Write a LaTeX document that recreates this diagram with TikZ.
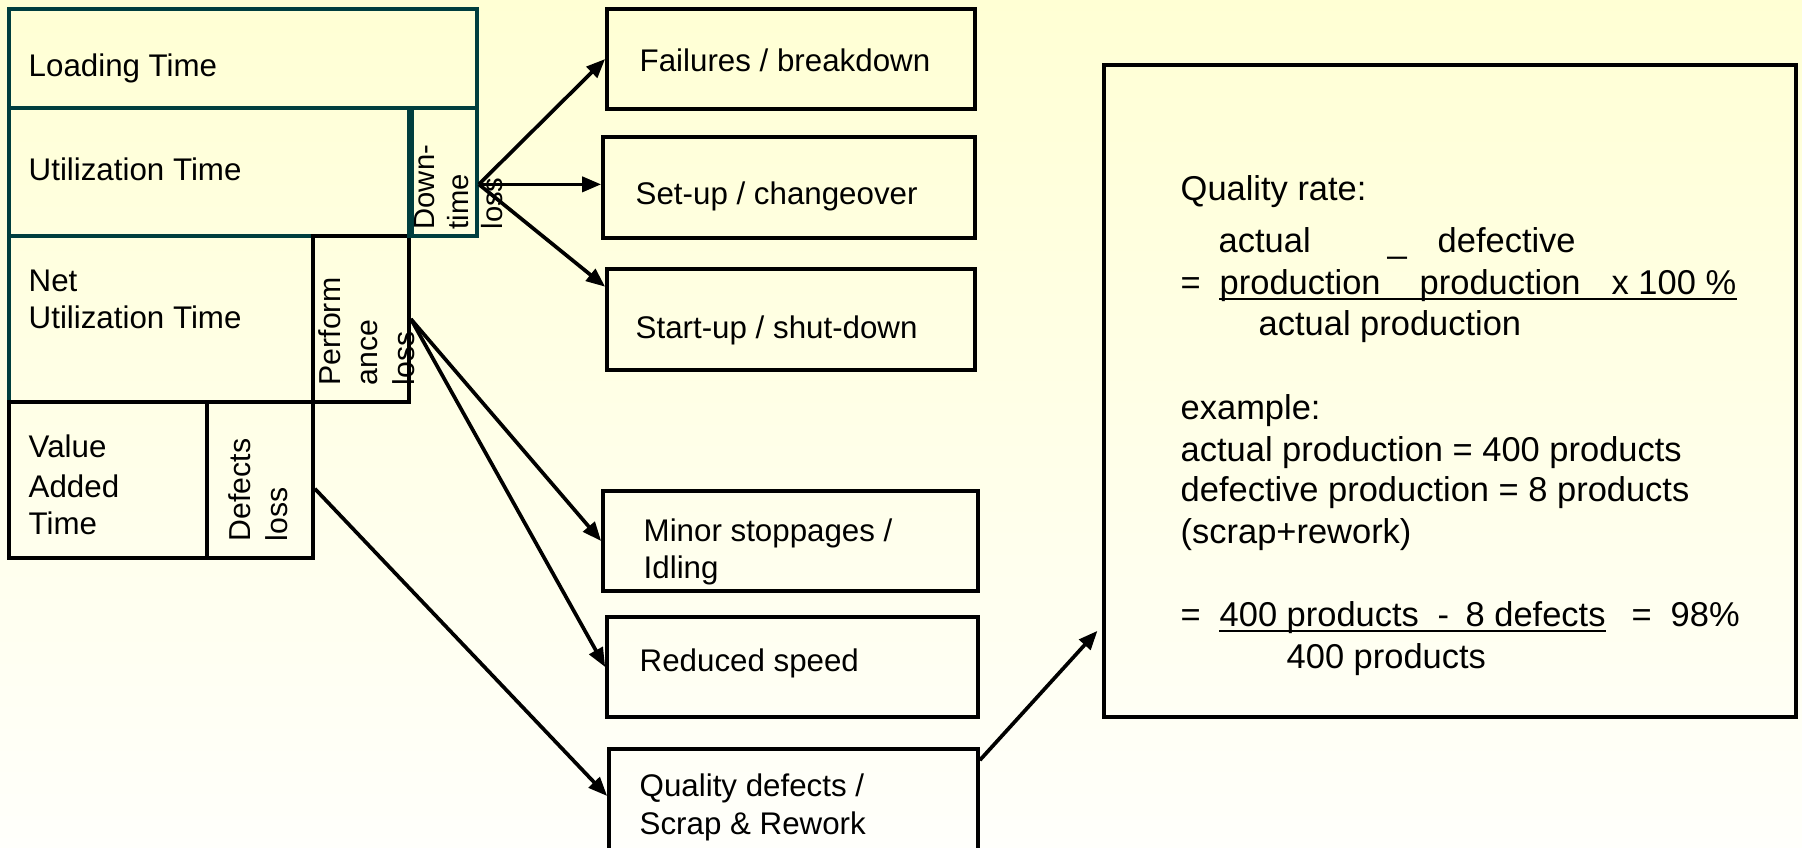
\documentclass[tikz,border=0pt]{standalone}
\usepackage{fontspec}
\setmainfont{Liberation Sans}
\usetikzlibrary{arrows.meta,fit,calc}
\definecolor{tealb}{RGB}{0,62,62}
\definecolor{bgtop}{RGB}{255,255,212}
\definecolor{bgbot}{RGB}{255,255,251}
\begin{document}
\begin{tikzpicture}[x=0.01cm,y=-0.01cm,
  tbox/.style={draw=tealb, line width=1.05pt, rectangle, inner sep=0pt},
  bbox/.style={draw=black, line width=1.05pt, rectangle, inner sep=0pt},
  lt/.style={font=\fontsize{8.9}{10.7}\selectfont, inner sep=0pt, anchor=base west},
  rt/.style={font=\fontsize{8.6}{10.3}\selectfont, inner sep=0pt, anchor=base west, rotate=90},
  qt/.style={font=\fontsize{9.8}{11.6}\selectfont, inner sep=0pt, anchor=base west},
  arr/.style={line width=1.05pt, -{Triangle[length=1.9mm,width=1.5mm]}},
  uline/.style={line width=0.5pt}]
\useasboundingbox (0,0) rectangle (1802,848);
\clip (0,0) rectangle (1802,848);
\shade[top color=bgtop, bottom color=bgbot] (0,0) rectangle (1802,848);

% left block
\node[tbox, fit={(9,9)(477,108)}] (load) {};
\node[tbox, fit={(9,108)(409,236)}] (util) {};
\node[tbox, fit={(409,108)(477,236)}] (dt) {};
\node[tbox, fit={(9,236)(313,402)}] (net) {};
\node[bbox, fit={(313,236)(409,402)}] (pl) {};
\node[bbox, fit={(9,402)(207,558)}] (va) {};
\node[bbox, fit={(207,402)(313,558)}] (dl) {};
\draw[tealb, line width=2pt] (util.north east) -- (util.south east);

\node[lt] (loadT) at (28,76) {Loading Time};
\node[lt] (utilT) at (28,180) {Utilization Time};
\node[lt] (netT1) at (28,291) {Net};
\node[lt] (netT2) at (28,328) {Utilization Time};
\node[lt] (vaT1) at (28,457) {Value};
\node[lt] (vaT2) at (28,497) {Added};
\node[lt] (vaT3) at (28,534) {Time};

\node[rt, font=\fontsize{8.3}{10}\selectfont] (dtT1) at (434,230) {Down-};
\node[rt, font=\fontsize{8.3}{10}\selectfont] (dtT2) at (468,230) {time};
\node[rt, font=\fontsize{8.3}{10}\selectfont] (dtT3) at (502,230) {loss};
\node[rt] (plT1) at (340,386) {Perform};
\node[rt] (plT2) at (377,386) {ance};
\node[rt] (plT3) at (414,386) {loss};
\node[rt] (dlT1) at (250,542) {Defects};
\node[rt] (dlT2) at (287,542) {loss};

% loss boxes
\node[bbox, fit={(607,9)(975,109)}] (fail) {};
\node[bbox, fit={(603,137)(975,238)}] (setup) {};
\node[bbox, fit={(607,269)(975,370)}] (start) {};
\node[bbox, fit={(603,491)(978,591)}] (minor) {};
\node[bbox, fit={(607,617)(978,717)}] (speed) {};
\node[bbox, fit={(609,749)(978,856)}] (qd) {};
\node[bbox, fit={(1104,65)(1796,717)}] (qr) {};

\node[lt] (failT) at (639,71) {Failures / breakdown};
\node[lt] (setupT) at (635,204) {Set-up / changeover};
\node[lt] (startT) at (635,338) {Start-up / shut-down};
\node[lt] (minorT1) at (643,541) {Minor stoppages /};
\node[lt] (minorT2) at (643,578) {Idling};
\node[lt] (speedT) at (639,671) {Reduced speed};
\node[lt] (qdT1) at (639,796) {Quality defects /};
\node[lt] (qdT2) at (639,834) {Scrap \& Rework};

% quality rate text
\node[qt] (q1) at (1180,200) {Quality rate:};
\node[qt] (q2a) at (1218,252) {actual};
\node[qt] (q2b) at (1387,252) {\_};
\node[qt] (q2c) at (1437,252) {defective};
\node[qt] (q3a) at (1180,294) {=};
\node[qt] (q3b) at (1219,294) {production};
\node[qt] (q3c) at (1419,294) {production};
\node[qt] (q3d) at (1611,294) {x 100 \%};
\draw[uline] ([yshift=-0.05cm]q3b.base west) -- ([yshift=-0.05cm]q3d.base east);
\node[qt] (q4) at (1258,335) {actual production};
\node[qt] (q5) at (1180,419) {example:};
\node[qt] (q6) at (1180,461) {actual production = 400 products};
\node[qt] (q7) at (1180,501) {defective production = 8 products};
\node[qt] (q8) at (1180,543) {(scrap+rework)};
\node[qt] (q9a) at (1180,626) {=};
\node[qt] (q9b) at (1219,626) {400 products};
\node[qt] (q9c) at (1437,626) {-};
\node[qt] (q9d) at (1465,626) {8 defects};
\draw[uline] ([yshift=-0.05cm]q9b.base west) -- ([yshift=-0.05cm]q9d.base east);
\node[qt] (q9e) at (1631,626) {=};
\node[qt] (q9f) at (1670,626) {98\%};
\node[qt] (q10) at (1286,668) {400 products};

% connectors
\coordinate (dto) at (dt.-19);
\draw[arr] (dto) -- (fail.west);
\draw[arr] (dto) -- (dto -| setup.west);
\draw[arr] (dto) -- (start.170);
\coordinate (plo) at (pl.east);
\draw[arr] (plo) -- (minor.west);
\draw[arr] (plo) -- (speed.west);
\coordinate (dlo) at (dl.-9);
\draw[arr] (dlo) -- (qd.178);
\coordinate (qdo) at ([yshift=-0.13cm]qd.north east);
\draw[arr, shorten >=0.07cm] (qdo) -- (qr.214);
\end{tikzpicture}
\end{document}
